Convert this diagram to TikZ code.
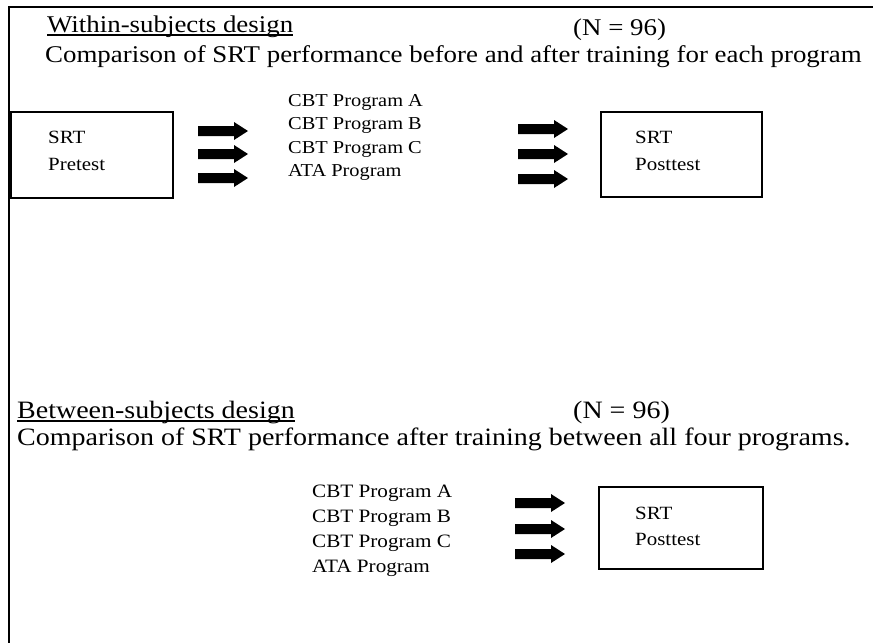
\documentclass[tikz,border=0pt]{standalone}
\usepackage{fontspec}
\setmainfont{Liberation Serif}[FakeStretch=1.12]
\begin{document}
\begin{tikzpicture}[x=1pt,y=-1pt,
  frameline/.style={line width=1.8pt},
  title/.style={anchor=base west, inner sep=0pt, font=\fontsize{24}{26}\selectfont},
  btitle/.style={anchor=base west, inner sep=0pt, font=\fontsize{25}{26}\selectfont},
  prog/.style={anchor=base west, inner sep=0pt, font=\fontsize{18.2}{20}\selectfont},
  bprog/.style={anchor=base west, inner sep=0pt, font=\fontsize{18.9}{20}\selectfont},
  boxtxt/.style={anchor=base west, inner sep=0pt, font=\fontsize{18.7}{20}\selectfont},
  testbox/.style={draw, line width=1.3pt, inner sep=0pt},
  uline/.style={line width=1.3pt},
  blockarrow/.pic={\fill (0,-5) -- (36,-5) -- (36,-9) -- (50,0) -- (36,9) -- (36,5) -- (0,5) -- cycle;}
]
\useasboundingbox (0,0) rectangle (873,643);
% frame
\coordinate (ftl) at (9,7);
\coordinate (ftr) at (873,7);
\coordinate (fbl) at (9,643);
\draw[frameline] (ftr) -- (ftl) -- (fbl);

% ---------- within-subjects ----------
\node[title] (wtitle) at (47,32) {Within-subjects design};
\draw[uline] ([yshift=-3pt]wtitle.base west) -- ([yshift=-3pt]wtitle.base east);
\node[title] (wn) at (573,35) {(N = 96)};
\node[title] (wcomp) at (45,62) {Comparison of SRT performance before and after training for each program};

\node[testbox, minimum width=162pt, minimum height=86pt] (pre) at (92,155) {};
\node[boxtxt] (pre1) at (48,143) {SRT};
\node[boxtxt] (pre2) at (48,170) {Pretest};

\pic at (198,131) {blockarrow};
\pic at (198,154) {blockarrow};
\pic at (198,178) {blockarrow};

\node[prog] (wa) at (288,106) {CBT Program A};
\node[prog] (wb) at (288,129) {CBT Program B};
\node[prog] (wc) at (288,153) {CBT Program C};
\node[prog] (wd) at (288,176) {ATA Program};

\pic at (518,129) {blockarrow};
\pic at (518,154) {blockarrow};
\pic at (518,179) {blockarrow};

\node[testbox, minimum width=161pt, minimum height=85pt] (post1) at (681.5,154.5) {};
\node[boxtxt] (post1a) at (635,143) {SRT};
\node[boxtxt] (post1b) at (635,170) {Posttest};

% ---------- between-subjects ----------
\node[btitle] (btitle) at (17,418) {Between-subjects design};
\draw[uline] ([yshift=-3pt]btitle.base west) -- ([yshift=-3pt]btitle.base east);
\node[btitle] (bn) at (573,418) {(N = 96)};
\node[btitle] (bcomp) at (17,445) {Comparison of SRT performance after training between all four programs.};

\node[bprog] (ba) at (312,497) {CBT Program A};
\node[bprog] (bb) at (312,522) {CBT Program B};
\node[bprog] (bc) at (312,547) {CBT Program C};
\node[bprog] (bd) at (312,572) {ATA Program};

\pic at (515,503) {blockarrow};
\pic at (515,529) {blockarrow};
\pic at (515,554) {blockarrow};

\node[testbox, minimum width=164pt, minimum height=82pt] (post2) at (681,528) {};
\node[boxtxt] (post2a) at (635,519) {SRT};
\node[boxtxt] (post2b) at (635,545) {Posttest};
\end{tikzpicture}
\end{document}
